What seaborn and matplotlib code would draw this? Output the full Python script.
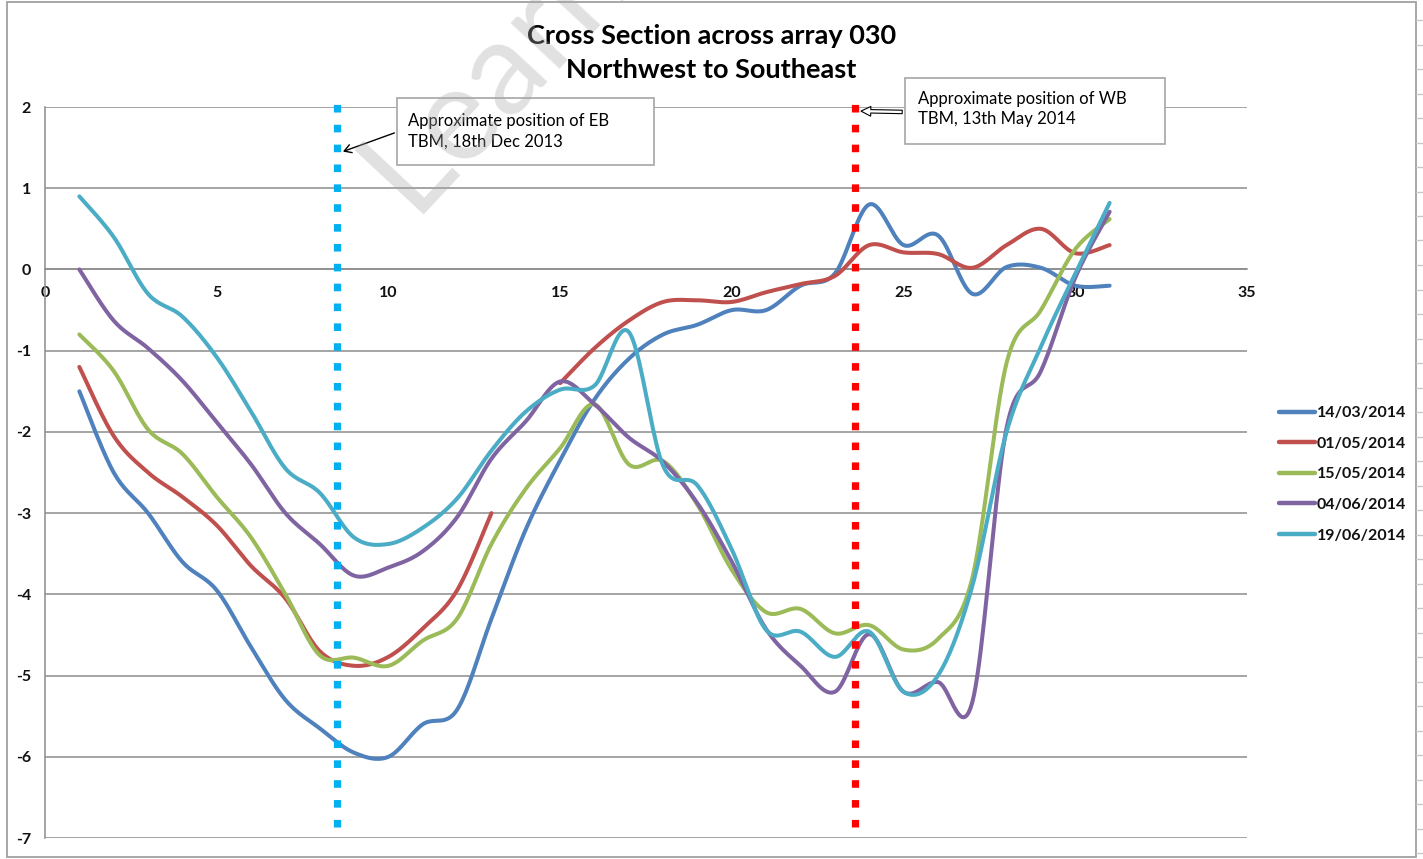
import numpy as np
import pandas as pd
import matplotlib
matplotlib.use("Agg")
import matplotlib.pyplot as plt
from matplotlib.lines import Line2D
from matplotlib.patches import Rectangle, FancyArrowPatch
import seaborn as sns

# ---------------------------------------------------------------- data
stations = list(range(1, 32))
dates = ["14/03/2014", "01/05/2014", "15/05/2014", "04/06/2014", "19/06/2014"]

level_1403 = [-1.5, -2.5, -3.0, -3.6, -3.95, -4.65, -5.3, -5.65, -5.95, -6.0,
              -5.6, -5.42, -4.3, -3.2, -2.35, -1.6, -1.1, -0.8, -0.68, -0.5,
              -0.5, -0.2, -0.05, 0.8, 0.3, 0.42, -0.3, 0.03, 0.02, -0.2, -0.2]
level_0105 = [-1.2, -2.05, -2.5, -2.8, -3.15, -3.65, -4.05, -4.7, -4.88, -4.77,
              -4.42, -3.95, -3.0, np.nan, -1.4, -0.97, -0.63, -0.4, -0.38, -0.4,
              -0.28, -0.18, -0.08, 0.3, 0.21, 0.19, 0.02, 0.3, 0.5, 0.2, 0.3]
level_1505 = [-0.8, -1.25, -1.97, -2.27, -2.8, -3.3, -4.0, -4.75, -4.78, -4.88,
              -4.57, -4.3, -3.38, -2.7, -2.2, -1.66, -2.4, -2.36, -2.9, -3.7,
              -4.22, -4.18, -4.48, -4.38, -4.68, -4.55, -3.8, -1.15, -0.5, 0.25, 0.62]
level_0406 = [0.0, -0.63, -0.97, -1.37, -1.88, -2.4, -3.0, -3.38, -3.77, -3.67,
              -3.47, -3.05, -2.33, -1.87, -1.38, -1.66, -2.07, -2.37, -2.88, -3.6,
              -4.43, -4.88, -5.2, -4.49, -5.2, -5.08, -5.33, -1.95, -1.25, -0.1, 0.71]
level_1906 = [0.9, 0.4, -0.3, -0.58, -1.08, -1.75, -2.45, -2.75, -3.3, -3.38,
              -3.18, -2.82, -2.23, -1.75, -1.48, -1.43, -0.77, -2.42, -2.66, -3.45,
              -4.44, -4.46, -4.77, -4.46, -5.2, -5.0, -3.9, -2.0, -0.95, -0.05, 0.82]
levels = [level_1403, level_0105, level_1505, level_0406, level_1906]

colors = ["#4F81BD", "#C0504D", "#9BBB59", "#8064A2", "#4BACC6"]

# TBM positions (station) and their notes
tbm_x = [8.5, 23.6]
tbm_colors = ["#00B0F0", "#FF0000"]
tbm_notes = ["Approximate position of EB\nTBM, 18th Dec 2013",
             "Approximate position of WB\nTBM, 13th May 2014"]

x_ticks = [0, 5, 10, 15, 20, 25, 30, 35]
y_ticks = [-7, -6, -5, -4, -3, -2, -1, 0, 1, 2]

title_1 = "Cross Section across array 030"
title_2 = "Northwest to Southeast"


# ------------------------------------------------ smoothed line geometry
def smooth_segment(xs, ys, n=20):
    """Bezier smoothing through every point (spreadsheet-style smoothed line)."""
    p = np.column_stack([xs, ys]).astype(float)
    m = len(p)
    if m < 2:
        return p[:, 0], p[:, 1]
    out = []
    for i in range(m - 1):
        p0 = p[max(i - 1, 0)]
        p1 = p[i]
        p2 = p[i + 1]
        p3 = p[min(i + 2, m - 1)]
        c1 = p1 + (p2 - p0) / 6.0
        c2 = p2 - (p3 - p1) / 6.0
        t = np.linspace(0, 1, n, endpoint=(i == m - 2))[:, None]
        b = ((1 - t) ** 3) * p1 + 3 * ((1 - t) ** 2) * t * c1 \
            + 3 * (1 - t) * t ** 2 * c2 + t ** 3 * p2
        out.append(b)
    out = np.vstack(out)
    return out[:, 0], out[:, 1]


rows = []
for date, vals in zip(dates, levels):
    vals = np.asarray(vals, dtype=float)
    xs = np.asarray(stations, dtype=float)
    ok = ~np.isnan(vals)
    # split into runs of consecutive readings
    seg_id = np.cumsum(~ok)
    for k in np.unique(seg_id[ok]):
        sel = ok & (seg_id == k)
        sx, sy = smooth_segment(xs[sel], vals[sel])
        for a, b in zip(sx, sy):
            rows.append({"date": date, "segment": f"{date}-{k}", "x": a, "y": b})
df = pd.DataFrame(rows)

# ---------------------------------------------------------------- style
sns.set_theme(style="white")
plt.rcParams["font.family"] = ["Lato", "DejaVu Sans"]
plt.rcParams["font.weight"] = "bold"          # tick labels, legend and title
plt.rcParams["axes.unicode_minus"] = False
plt.rcParams["xtick.labelsize"] = 11.5
plt.rcParams["ytick.labelsize"] = 11.5

W, H = 1423, 859
fig = plt.figure(figsize=(W / 100, H / 100), dpi=100)


def fx(px):
    return px / W


def fy(py):
    return 1 - py / H


ax = fig.add_axes([fx(45), fy(838), fx(1247) - fx(45), fy(107) - fy(838)])

sns.lineplot(data=df, x="x", y="y", hue="date", hue_order=dates,
             palette=colors, units="segment", estimator=None, sort=False,
             linewidth=2.9, solid_capstyle="round", solid_joinstyle="round",
             ax=ax, zorder=3)

grid_c = "#8C8C8C"
for s in ["top", "right"]:
    ax.spines[s].set_visible(False)
ax.spines["left"].set_color(grid_c)
ax.spines["left"].set_linewidth(1.1)
# horizontal axis runs along the zero level
ax.spines["bottom"].set_position(("data", 0))
ax.spines["bottom"].set_color(grid_c)
ax.spines["bottom"].set_linewidth(1.1)

ax.set_xlim(0, 35)
ax.set_ylim(-7, 2)
ax.set_xticks(x_ticks)
ax.set_yticks(y_ticks)
ax.set_xticklabels([str(v) for v in x_ticks])
ax.set_yticklabels([str(v) for v in y_ticks])
ax.set_xlabel("")
ax.set_ylabel("")
ax.yaxis.grid(True, color=grid_c, linewidth=1.1)
ax.xaxis.grid(False)
ax.set_axisbelow(True)

ax.tick_params(axis="x", direction="out", length=3, width=1, color=grid_c, pad=9,
               labelsize=11.5, labelcolor="#111111")
ax.tick_params(axis="y", direction="out", length=3.6, width=1, color=grid_c, pad=6.5,
               labelsize=11.5, labelcolor="#111111")

# TBM position markers
for xv, c in zip(tbm_x, tbm_colors):
    ax.vlines(xv, -6.86, 2.15, colors=c, linewidth=5.2,
              linestyles=(0, (1.05, 1.7)), zorder=5, clip_on=False)
for coll in ax.collections:
    coll.set_capstyle("butt")

# note boxes with arrows
boxes = [(397, 98, 654, 165), (905, 78, 1165, 144)]
text_xy = [(408, 131), (918, 109)]
arrow_from = [(397, 132), (905, 112)]
arrow_tip_y = [1.44, 1.95]
arrow_tip_dx = [0.1, 0.08]
for i, ((x0, y0, x1, y1), note) in enumerate(zip(boxes, tbm_notes)):
    fig.add_artist(Rectangle((fx(x0), fy(y1)), fx(x1) - fx(x0), fy(y0) - fy(y1),
                             transform=fig.transFigure, facecolor="white",
                             edgecolor="#A6A6A6", linewidth=1.2, zorder=6))
    fig.text(fx(text_xy[i][0]), fy(text_xy[i][1]), note, ha="left", va="center",
             fontsize=12, fontweight="normal", color="black", linespacing=1.35,
             zorder=7)

tip1 = ax.transData.transform((tbm_x[0] + arrow_tip_dx[0], arrow_tip_y[0]))
tip1 = fig.transFigure.inverted().transform(tip1)
fig.add_artist(FancyArrowPatch((fx(arrow_from[0][0]), fy(arrow_from[0][1])), tuple(tip1),
                               transform=fig.transFigure, arrowstyle="->,head_length=5,head_width=3",
                               color="black", linewidth=1.0, zorder=7))
tip2 = ax.transData.transform((tbm_x[1] + arrow_tip_dx[1], arrow_tip_y[1]))
tip2 = fig.transFigure.inverted().transform(tip2)
fig.add_artist(FancyArrowPatch((fx(arrow_from[1][0]), fy(arrow_from[1][1])), tuple(tip2),
                               transform=fig.transFigure,
                               arrowstyle="simple,head_length=7,head_width=7,tail_width=2.5",
                               facecolor="white", edgecolor="black", linewidth=0.8, zorder=7))

# legend
handles = [Line2D([0], [0], color=c, linewidth=3.2, solid_capstyle="round") for c in colors]
if ax.get_legend() is not None:
    ax.get_legend().remove()
leg = fig.legend(handles, dates, loc="upper left",
                 bbox_to_anchor=(fx(1279), fy(406)), bbox_transform=fig.transFigure,
                 frameon=False, fontsize=11.5, handlelength=2.25, handletextpad=0.12,
                 labelspacing=1.03, borderpad=0, borderaxespad=0,
                 prop={"weight": "bold", "size": 11.5})
for t in leg.get_texts():
    t.set_color("#111111")

# titles
fig.text(0.5, fy(36), title_1, ha="center", va="center", fontsize=19.5,
         fontweight="bold", color="black")
fig.text(0.5, fy(70), title_2, ha="center", va="center", fontsize=19.5,
         fontweight="bold", color="black")

# chart frame and sheet edge
frame_c = "#A0A0A0"
fig.add_artist(Rectangle((fx(7), fy(857)), fx(1416) - fx(7), fy(2) - fy(857),
                         transform=fig.transFigure, fill=False,
                         edgecolor=frame_c, linewidth=1.3, zorder=1))
for py in np.arange(20, 859, 24.5):
    fig.add_artist(Line2D([fx(1416), fx(1423)], [fy(py), fy(py)],
                          transform=fig.transFigure, color="#C8C8C8", linewidth=1.0))

# site watermark
fig.text(fx(412), fy(214), "Learn", rotation=47, rotation_mode="anchor",
         ha="left", va="baseline", fontsize=95, fontweight="normal",
         color="#A8A8A8", alpha=0.35, zorder=10)

fig.savefig("out.png", dpi=100)
